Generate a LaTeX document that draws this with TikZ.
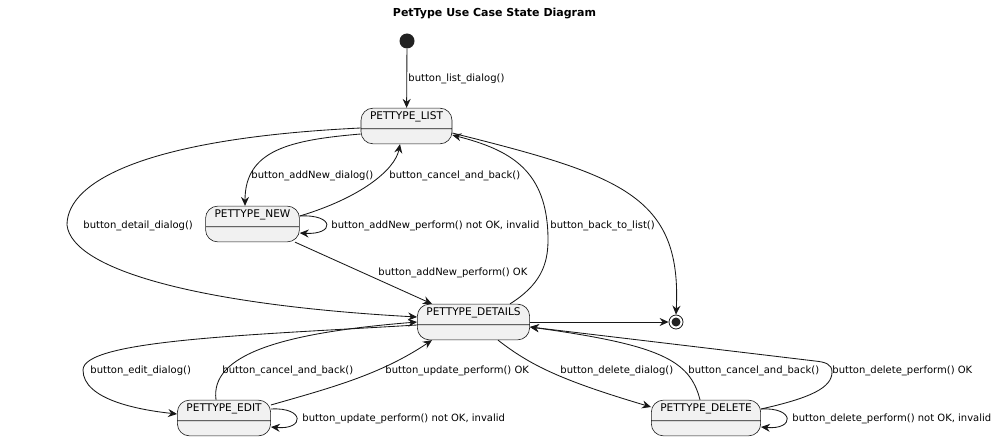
\documentclass[tikz,border=0pt]{standalone}
\usepackage{fontspec}
\setmainfont{DejaVu Sans}
\usetikzlibrary{arrows.meta}
\usetikzlibrary{shapes.multipart}
\definecolor{linec}{HTML}{181818}
\definecolor{boxfill}{HTML}{F1F1F1}
\definecolor{dotc}{HTML}{222222}

\begin{document}
\begin{tikzpicture}[x=1pt, y=-1pt,
  state/.style={rectangle split, rectangle split parts=2, draw=linec, fill=boxfill,
    line width=0.6pt, rounded corners=12pt, inner xsep=9pt, inner ysep=4.5pt,
    text height=7pt, text depth=4pt, font=\fontsize{10.6}{12}\selectfont},
  startdot/.style={circle, fill=dotc, minimum size=15pt, inner sep=0pt},
  enddot/.style={circle, draw=linec, fill=white, line width=0.8pt, minimum size=14pt, inner sep=0pt,
    path picture={\fill[dotc] (path picture bounding box.center) circle (4.5pt);}},
  lbl/.style={anchor=west, inner sep=0pt, font=\fontsize{10}{12}\selectfont},
  tr/.style={draw=linec, line width=0.85pt, -{Stealth[length=9pt, width=8pt, inset=3pt]}}]

\useasboundingbox (0,0) rectangle (1000,441);

\node[font=\fontsize{11}{13}\selectfont\bfseries] (title) at (494.5,14) {PetType Use Case State Diagram};

\node[startdot] (start) at (407,41) {};
\node[state] (list) at (406.5,126) {PETTYPE\_LIST\nodepart{two}};
\node[state] (new) at (252.5,224) {PETTYPE\_NEW\nodepart{two}};
\node[state] (details) at (473.5,322) {PETTYPE\_DETAILS\nodepart{two}};
\node[state] (edit) at (224,418) {PETTYPE\_EDIT\nodepart{two}};
\node[state] (delete) at (706,418) {PETTYPE\_DELETE\nodepart{two}};
\node[enddot] (final) at (676,322) {};

\draw[tr] (start) -- (list) node[lbl] at (408,79) {button\_list\_dialog()};

\draw[tr] ([yshift=-8pt]list.west) .. controls (290,140) and (245,150) .. ([xshift=-7.5pt]new.north)
  node[lbl] at (251,176) {button\_addNew\_dialog()};
\draw[tr] ([yshift=8pt]new.east) .. controls (360,198) and (395,170) .. ([xshift=-6.5pt]list.south)
  node[lbl] at (389,176) {button\_cancel\_and\_back()};
\draw[tr] ([yshift=8pt]new.east) .. controls (335,214) and (335,235) .. ([yshift=-9pt]new.east)
  node[lbl] at (331,226) {button\_addNew\_perform() not OK, invalid};
\draw[tr] ([yshift=-2pt]list.west) .. controls (150,138) and (67,180) .. (67,225)
  .. controls (72,270) and (200,305) .. ([yshift=5pt]details.west)
  node[lbl] at (83,226) {button\_detail\_dialog()};
\draw[tr] ([xshift=42.5pt]new.south) -- ([xshift=-41.5pt]details.north)
  node[lbl] at (378,273) {button\_addNew\_perform() OK};
\draw[tr] ([xshift=36.5pt]details.north) .. controls (540,285) and (548,265) .. (548,240)
  .. controls (548,170) and (510,150) .. ([yshift=-9pt]list.east)
  node[lbl] at (550,226) {button\_back\_to\_list()};
\draw[tr] ([yshift=-7pt]list.east) .. controls (620,175) and (682,195) .. (final.north);
\draw[tr] (details.east) -- (final.west);

\draw[tr] ([yshift=-3pt]details.west) .. controls (250,335) and (83,340) .. (83,370)
  .. controls (83,400) and (140,410) .. ([yshift=4pt]edit.west)
  node[lbl] at (90,371) {button\_edit\_dialog()};
\draw[tr] ([xshift=-8pt]edit.north) .. controls (210,355) and (280,333) .. (details.west)
  node[lbl] at (222,371) {button\_cancel\_and\_back()};
\draw[tr] ([yshift=13pt]edit.east) .. controls (330,388) and (380,375) .. ([xshift=-41.5pt]details.south)
  node[lbl] at (385,371) {button\_update\_perform() OK};
\draw[tr] ([yshift=9pt]edit.east) .. controls (305,407) and (305,430) .. ([yshift=-9pt]edit.east)
  node[lbl] at (302,419) {button\_update\_perform() not OK, invalid};

\draw[tr] ([xshift=24.5pt]details.south) .. controls (530,365) and (560,380) .. ([yshift=11pt]delete.west)
  node[lbl] at (560,371) {button\_delete\_dialog()};
\draw[tr] ([xshift=-6pt]delete.north) .. controls (690,360) and (660,345) .. ([yshift=-5pt]details.east)
  node[lbl] at (688,371) {button\_cancel\_and\_back()};
\draw[tr] ([yshift=9pt]delete.east) .. controls (810,398) and (832,388) .. (832,372)
  .. controls (832,364) and (825,362) .. (815,361) -- ([yshift=-5pt]details.east)
  node[lbl] at (832,371) {button\_delete\_perform() OK};
\draw[tr] ([yshift=9pt]delete.east) .. controls (795,407) and (795,430) .. ([yshift=-9pt]delete.east)
  node[lbl] at (792,419) {button\_delete\_perform() not OK, invalid};

\end{tikzpicture}
\end{document}
